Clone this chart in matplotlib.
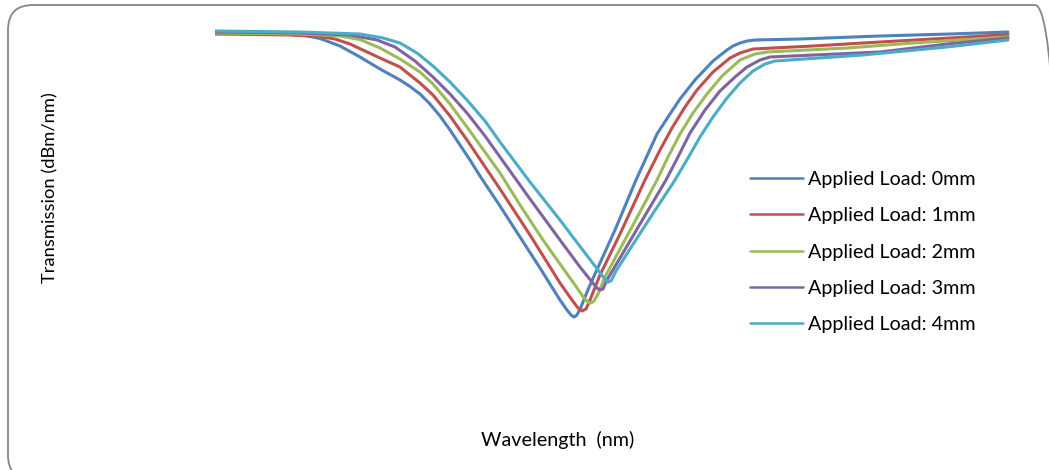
import matplotlib
matplotlib.use("Agg")
import matplotlib.pyplot as plt
from matplotlib.patches import FancyBboxPatch
from matplotlib.transforms import IdentityTransform

# values (wavelength in nm, transmission in dBm/nm)
labels = ["Applied Load: 0mm", "Applied Load: 1mm", "Applied Load: 2mm",
          "Applied Load: 3mm", "Applied Load: 4mm"]
colors = ["#4F81BD", "#C0504D", "#9BBB59", "#8064A2", "#4BACC6"]

wl_0mm = [1510.75, 1514.0, 1515.25, 1516.0, 1517.0, 1518.0, 1519.0, 1520.0, 1520.5, 1521.0,
          1521.5, 1522.0, 1522.5, 1523.0, 1523.5, 1524.0, 1525.0, 1526.0, 1527.0, 1528.0,
          1528.35, 1528.55, 1528.7, 1528.85, 1529.05, 1529.25, 1529.5, 1530.0, 1530.75, 1531.8,
          1532.85, 1533.5, 1534.0, 1534.75, 1535.65, 1536.35, 1536.65, 1537.0, 1537.35, 1537.75,
          1540.0, 1544.0, 1547.5, 1550.4]
tr_0mm = [-3.3, -3.4, -3.55, -3.85, -4.6, -5.7, -6.9, -8.0, -8.65, -9.4,
          -10.4, -11.6, -13.0, -14.5, -16.0, -17.6, -20.6, -23.7, -26.8, -30.0,
          -31.0, -31.5, -31.7, -31.5, -30.7, -29.7, -28.5, -26.3, -23.0, -18.0,
          -13.4, -11.4, -9.9, -8.0, -6.1, -5.0, -4.6, -4.3, -4.1, -4.0,
          -3.9, -3.6, -3.4, -3.2]

wl_1mm = [1510.75, 1514.5, 1516.0, 1516.75, 1517.5, 1518.25, 1519.0, 1520.0, 1521.0, 1521.65,
          1522.5, 1523.35, 1525.0, 1526.5, 1528.0, 1528.6, 1528.9, 1529.1, 1529.3, 1529.5,
          1530.0, 1531.0, 1532.25, 1533.0, 1533.6, 1534.25, 1534.85, 1535.65, 1536.5, 1537.0,
          1537.65, 1540.65, 1544.0, 1547.5, 1550.4]
tr_1mm = [-3.4, -3.5, -3.65, -3.9, -4.4, -5.1, -5.8, -6.7, -8.3, -9.5,
          -11.6, -14.0, -18.9, -23.5, -28.3, -30.0, -30.8, -31.1, -30.9, -30.0,
          -27.5, -23.4, -18.0, -15.0, -12.8, -10.7, -9.0, -7.2, -5.8, -5.3,
          -4.9, -4.6, -4.2, -3.8, -3.45]

wl_2mm = [1510.75, 1515.0, 1517.0, 1518.0, 1519.0, 1520.0, 1521.0, 1521.65, 1522.5, 1523.35,
          1525.0, 1526.0, 1527.15, 1528.0, 1528.75, 1529.2, 1529.4, 1529.55, 1529.7, 1529.9,
          1530.25, 1531.0, 1532.0, 1532.85, 1533.4, 1534.0, 1534.65, 1535.35, 1536.1, 1537.0,
          1537.75, 1538.35, 1542.35, 1545.65, 1548.0, 1550.4]
tr_2mm = [-3.3, -3.4, -3.6, -3.95, -4.8, -5.9, -7.2, -8.4, -10.4, -12.7,
          -17.3, -20.5, -24.0, -26.4, -28.5, -29.8, -30.2, -30.3, -30.1, -29.4,
          -27.7, -24.9, -21.2, -18.0, -15.7, -13.4, -11.3, -9.4, -7.6, -6.0,
          -5.4, -5.2, -4.8, -4.3, -4.0, -3.7]

wl_3mm = [1510.75, 1515.0, 1517.5, 1518.85, 1519.75, 1520.75, 1521.65, 1522.5, 1523.35, 1524.25,
          1525.0, 1526.5, 1528.0, 1529.0, 1529.6, 1529.85, 1530.0, 1530.15, 1530.35, 1531.0,
          1532.0, 1533.3, 1533.9, 1534.5, 1535.25, 1536.0, 1536.75, 1537.35, 1538.0, 1538.5,
          1544.0, 1547.35, 1550.4]
tr_3mm = [-3.2, -3.3, -3.5, -4.0, -4.7, -6.1, -7.7, -9.4, -11.3, -13.6,
          -15.7, -19.9, -24.0, -26.7, -28.2, -28.8, -29.0, -28.9, -28.0, -25.8,
          -22.4, -18.0, -15.7, -13.3, -11.0, -9.1, -7.7, -6.7, -6.0, -5.7,
          -5.2, -4.4, -3.8]

wl_4mm = [1510.75, 1515.0, 1518.0, 1519.15, 1520.0, 1520.85, 1521.65, 1522.5, 1523.35, 1524.25,
          1525.0, 1526.5, 1528.0, 1529.25, 1529.9, 1530.2, 1530.4, 1530.55, 1530.8, 1531.5,
          1532.5, 1533.75, 1534.4, 1535.0, 1535.65, 1536.35, 1537.0, 1537.65, 1538.25, 1538.75,
          1543.15, 1547.35, 1550.4]
tr_4mm = [-3.1, -3.2, -3.4, -3.8, -4.3, -5.3, -6.6, -8.2, -10.0, -12.1,
          -14.2, -18.2, -22.0, -25.3, -27.0, -27.8, -28.2, -28.1, -27.1, -24.9,
          -21.8, -18.0, -15.8, -13.7, -11.7, -9.8, -8.3, -7.1, -6.4, -6.1,
          -5.5, -4.7, -4.0]

wavelengths = [wl_0mm, wl_1mm, wl_2mm, wl_3mm, wl_4mm]
transmissions = [tr_0mm, tr_1mm, tr_2mm, tr_3mm, tr_4mm]

plt.rcParams['font.family'] = ['Lato', 'DejaVu Sans']
fig = plt.figure(figsize=(10.49, 4.70), dpi=100)

# rounded chart border, like an Excel chart area
border = FancyBboxPatch((8, -10), 1052, 475, boxstyle="round,pad=0,rounding_size=25",
                        transform=IdentityTransform(), facecolor="none",
                        edgecolor="#868686", linewidth=1.3, zorder=-1)
fig.patches.append(border)

ax = fig.add_axes([215 / 1049, 1 - 420 / 470, 795 / 1049, 395 / 470])
ax.patch.set_alpha(0)
for wl, tr, lab, col in zip(wavelengths, transmissions, labels, colors):
    ax.plot(wl, tr, color=col, lw=2.2, label=lab,
            solid_joinstyle="round", solid_capstyle="round")

ax.set_xlim(1510.75, 1550.5)
ax.set_ylim(-42.0, -2.5)
for s in ax.spines.values():
    s.set_visible(False)
ax.set_xticks([])
ax.set_yticks([])

fig.text(50 / 1049, 1 - 188 / 470, "Transmission (dBm/nm)", rotation=90,
         ha="center", va="center", fontsize=13.2)
fig.text(558 / 1049, 1 - 440 / 470, "Wavelength  (nm)", ha="center", va="center",
         fontsize=14.2)

leg = ax.legend(loc="upper left", bbox_to_anchor=(750 / 1049, 1 - 171 / 470),
                bbox_transform=fig.transFigure, frameon=False, fontsize=14.2,
                handlelength=2.7, handletextpad=0.25, labelspacing=0.98,
                borderpad=0, borderaxespad=0)
for line in leg.get_lines():
    line.set_linewidth(1.8)

fig.savefig("out.png", dpi=100)
